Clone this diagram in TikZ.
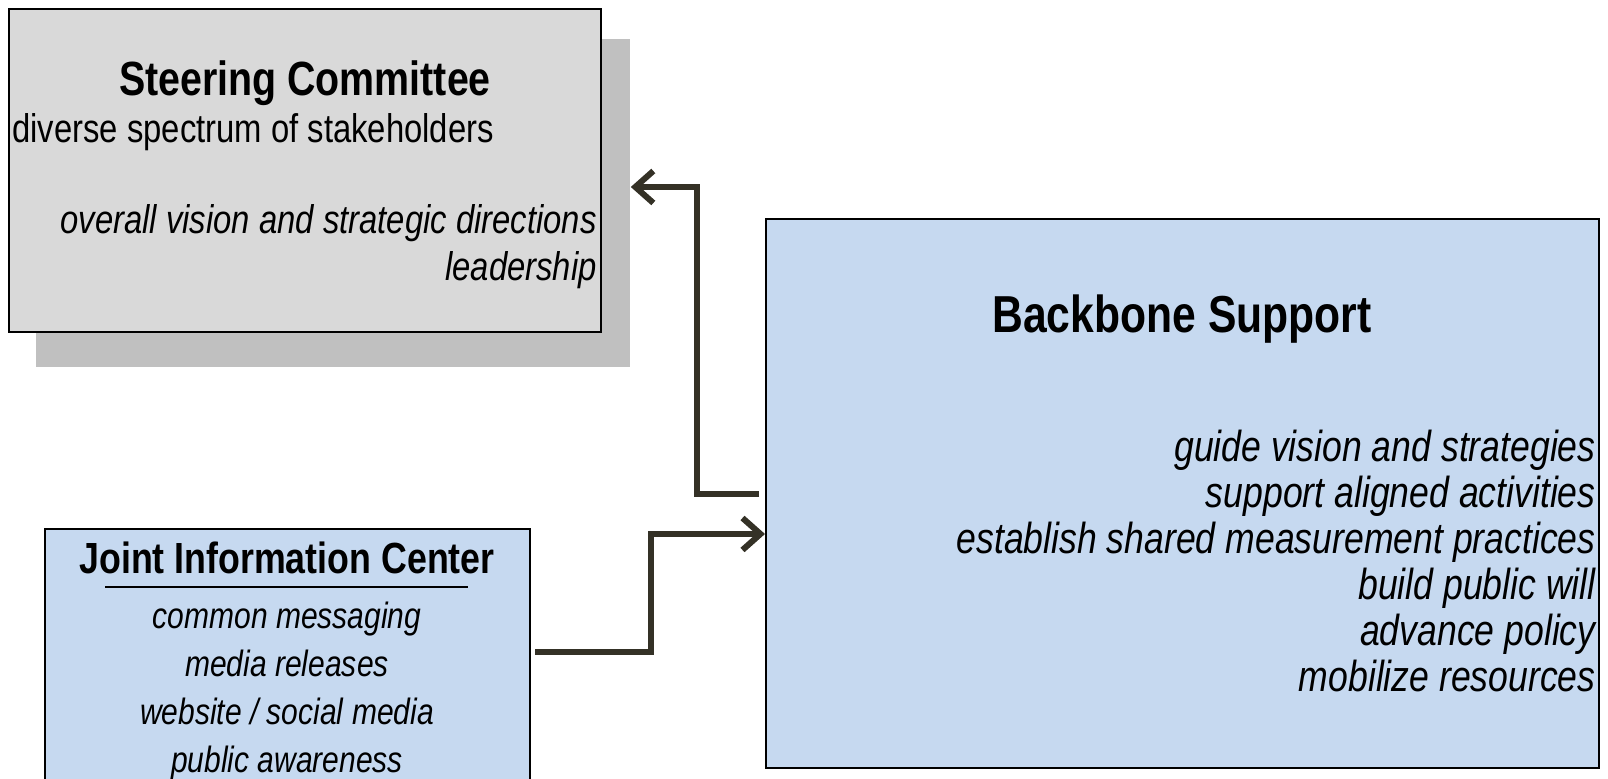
\documentclass[tikz,border=0pt]{standalone}
\usepackage{fontspec}
\setmainfont{Liberation Sans}[FakeStretch=0.82]
\usetikzlibrary{arrows.meta}
\definecolor{panelgray}{RGB}{217,217,217}
\definecolor{shadegray}{RGB}{192,192,192}
\definecolor{paleblue}{RGB}{198,217,240}
\definecolor{linkdark}{RGB}{52,49,38}
\begin{document}
\begin{tikzpicture}[x=0.5pt,y=-0.5pt,
	box/.style={draw=black,line width=1.2pt,inner sep=0pt,anchor=north west},
	txt/.style={inner sep=0pt,font=\fontsize{#1}{#1}\selectfont},
	head/.style={inner sep=0pt,font=\bfseries\fontsize{#1}{#1}\selectfont},
	flow/.style={draw=linkdark,line width=3pt,-{Straight Barb[length=9pt,width=16pt]}}]
	\useasboundingbox (0,0) rectangle (1608,779);
	\clip (0,0) rectangle (1608,779);
	% boxes
	\node[fill=shadegray,inner sep=0pt,anchor=north west,minimum width=297pt,minimum height=164pt] (shade) at (36,39) {};
	\node[box,fill=panelgray,minimum width=296pt,minimum height=161.5pt] (sc) at (8,8) {};
	\node[box,fill=paleblue,minimum width=416.5pt,minimum height=274.5pt] (bb) at (765,218) {};
	\node[box,fill=paleblue,minimum width=242.5pt,minimum height=150pt] (jic) at (44,528) {};
	% steering committee
	\node[head=24,anchor=base] (sctitle) at (305,96) {Steering Committee};
	\node[txt=20,anchor=base west] (scwho) at (12,143) {diverse spectrum of stakeholders};
	\node[txt=20,anchor=base east] (scrole) at (597,234) {\itshape overall vision and strategic directions};
	\node[txt=20,anchor=base east] (sclead) at (597,281) {\itshape leadership};
	% backbone
	\node[head=26,anchor=base] (bbtitle) at (1182,333) {Backbone Support};
	\foreach \t [count=\i from 0] in {guide vision and strategies,support aligned activities,establish shared measurement practices,build public will,advance policy,mobilize resources}
		\node[txt=21.7,anchor=base east] (bbline\i) at (1596,462+46*\i) {\itshape \t};
	% joint information center
	\node[head=21.8,anchor=base] (jictitle) at (287,574) {Joint Information Center};
	\draw[line width=1.2pt] (105,587) -- (468,587);
	\foreach \t [count=\i from 0] in {common messaging,media releases,website / social media,public awareness}
		\node[txt=18.3,anchor=base] (jicline\i) at (287,629+48*\i) {\itshape \t};
	% links
	\draw[flow] ([xshift=-3pt]bb.west) -| (697,187) -- (shade.east |- 0,187);
	\draw[flow] ([xshift=2pt]jic.east |- 0,652) -| (651,534) -- (bb.west |- 0,534);
\end{tikzpicture}
\end{document}
